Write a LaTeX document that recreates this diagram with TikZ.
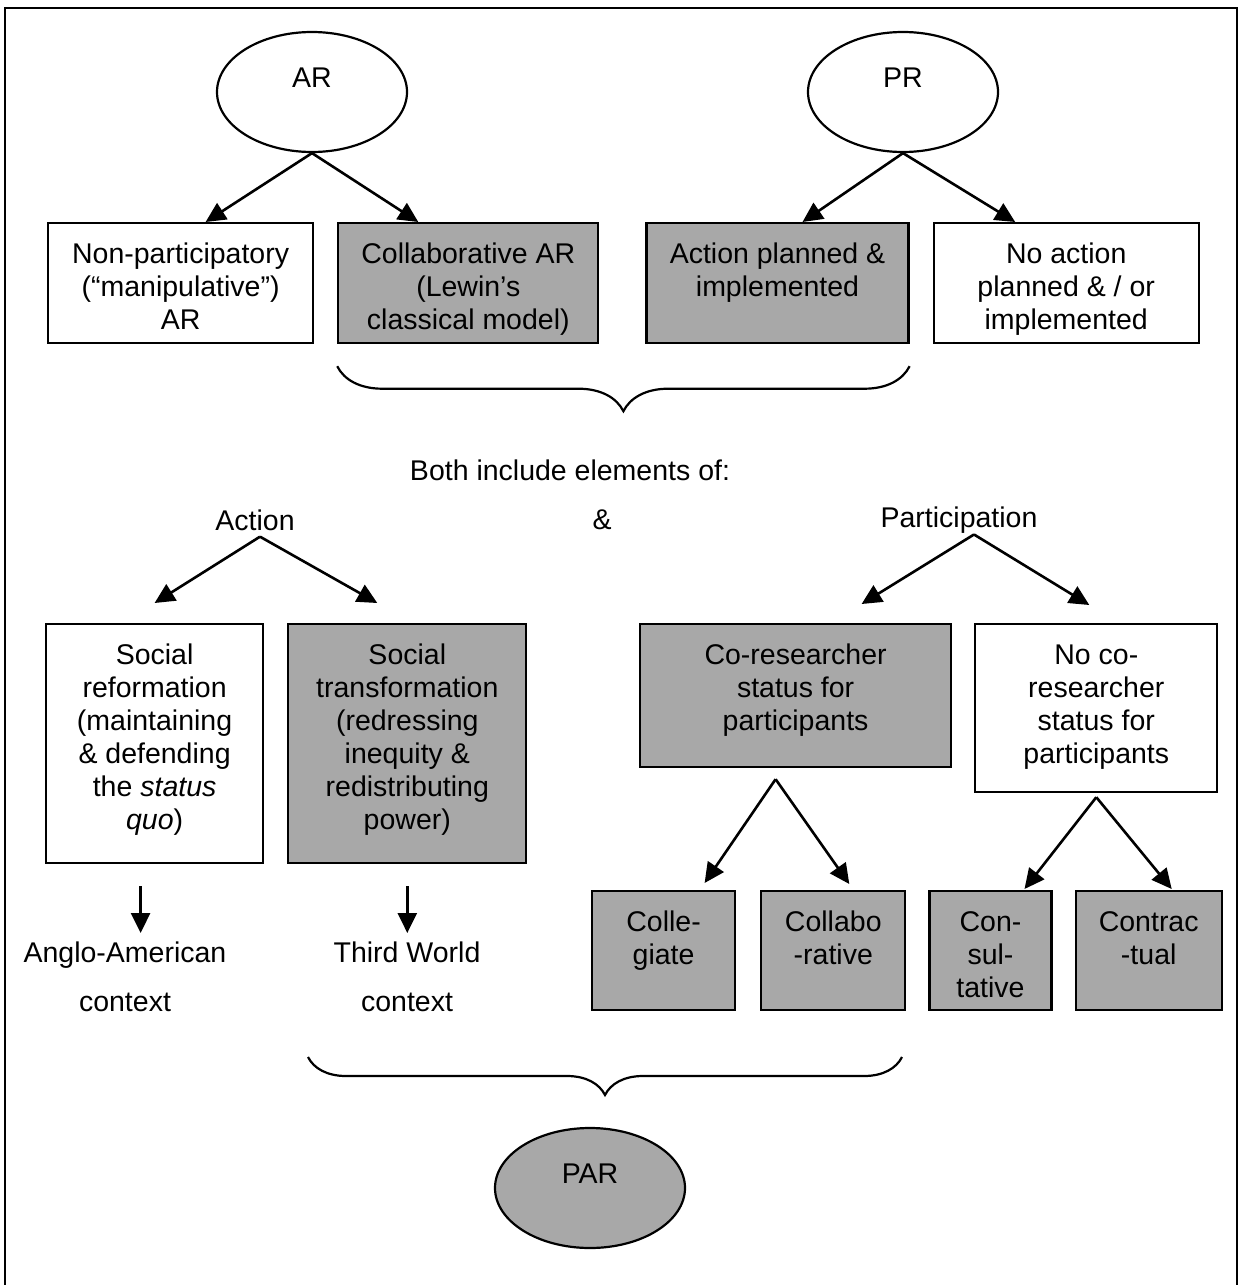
\documentclass[tikz,border=0pt]{standalone}
\usepackage{fontspec}
\setmainfont{Liberation Sans}
\definecolor{ShadeGray}{RGB}{168,168,168}
\usetikzlibrary{shapes.geometric, arrows.meta, positioning, calc, decorations.pathreplacing}
\newcommand{\diagfont}{\fontsize{28.5}{33}\selectfont}
\tikzset{
    base/.style={
        draw,
        line width=2.2pt,
        inner xsep=0pt,
        inner ysep=0pt,
        align=center,
        font=\diagfont
    },
    whitebox/.style={base, fill=white},
    greybox/.style={base, fill=ShadeGray},
    oval/.style={ellipse, draw, line width=2.2pt, minimum width=190pt, minimum height=120pt,
        text height=20pt, text depth=30pt, font=\diagfont},
    words/.style={inner sep=0pt, align=center, font=\diagfont},
    arrow/.style={-{Triangle[length=20pt, width=19pt]}, line width=2.6pt},
    curly/.style={decorate, decoration={brace, mirror, amplitude=#1}, line width=2.2pt}
}
\begin{document}
\begin{tikzpicture}[x=1pt, y=1pt, node distance=23pt]
    \useasboundingbox (0,0) rectangle (1242,-1285);
    % frame
    \draw[line width=2pt] (5,-1285) -- (5,-8) -- (1237,-8) -- (1237,-1285);

    % AR and PR
    \node[oval] (ar) at (312,-92) {AR};
    \node[oval] (pr) at (903,-92) {PR};
    \node[whitebox, anchor=north west, minimum width=265pt, text height=106pt, text depth=14pt] (nonpart) at (47,-222)
        {Non-participatory\\(“manipulative”)\\AR};
    \node[greybox, right=of nonpart, minimum width=260pt, text height=106pt, text depth=14pt] (collab)
        {Collaborative AR\\(Lewin’s\\classical model)};
    \node[greybox, right=46pt of collab, minimum width=262pt, text height=73pt, text depth=47pt] (planned)
        {Action planned \&\\implemented};
    \node[whitebox, right=of planned, minimum width=265pt, text height=106pt, text depth=14pt] (noplan)
        {No action\\planned \& / or\\implemented};

    \draw[arrow] (ar.south) -- ([xshift=25pt]nonpart.north);
    \draw[arrow] (ar.south) -- ([xshift=-50pt]collab.north);
    \draw[arrow] (pr.south) -- ([xshift=25pt]planned.north);
    \draw[arrow] (pr.south) -- ([xshift=-51pt]noplan.north);

    \draw[curly=45pt] ([yshift=-22pt]collab.south west) -- ([yshift=-22pt]planned.south east);

    % Action & Participation
    \node[words] (both) at (570,-470) {Both include elements of:};
    \node[words] (actionlab) at (255,-520) {Action};
    \node[words] (amp) at (602,-520) {\&};
    \node[words] (partlab) at (959,-520) {Participation};

    \node[whitebox, anchor=north west, minimum width=217pt, text height=205pt, text depth=34pt] (socref) at (45,-623)
        {Social\\reformation\\(maintaining\\\& defending\\the \textit{status}\\\textit{quo})};
    \node[greybox, right=of socref, minimum width=238pt, text height=205pt, text depth=34pt] (soctrans)
        {Social\\transformation\\(redressing\\inequity \&\\redistributing\\power)};
    \node[greybox, anchor=north west, minimum width=311pt, text height=106pt, text depth=37pt] (cores) at (639,-623)
        {Co-researcher\\status for\\participants};
    \node[whitebox, right=22pt of cores.north east, anchor=north west, minimum width=242pt, text height=139pt, text depth=29pt] (nocores)
        {No co-\\researcher\\status for\\participants};

    \draw[arrow] ([xshift=5pt, yshift=-6pt]actionlab.south) -- ([yshift=20pt]socref.north);
    \draw[arrow] ([xshift=5pt, yshift=-6pt]actionlab.south) -- ([xshift=-30pt, yshift=20pt]soctrans.north);
    \draw[arrow] ([xshift=15pt, yshift=-1pt]partlab.south) -- ([xshift=66pt, yshift=19pt]cores.north);
    \draw[arrow] ([xshift=15pt, yshift=-1pt]partlab.south) -- ([xshift=-7pt, yshift=18pt]nocores.north);

    % contexts
    \node[words, anchor=north] (anglo) at (125,-942) {Anglo-American\\[16pt]context};
    \node[words, anchor=north] (third) at (407,-942) {Third World\\[16pt]context};
    \coordinate (angloarr) at ([xshift=-14pt, yshift=-22pt]socref.south);
    \coordinate (thirdarr) at ([yshift=-22pt]soctrans.south);
    \draw[arrow] (angloarr) -- ($(angloarr |- anglo.north)+(0,9)$);
    \draw[arrow] (thirdarr) -- ($(thirdarr |- third.north)+(0,9)$);

    % kinds of participation
    \node[greybox, anchor=north west, minimum width=143pt, text height=73pt, text depth=46pt] (collegiate) at (591,-890)
        {Colle-\\giate};
    \node[greybox, right=24pt of collegiate, minimum width=144pt, text height=73pt, text depth=46pt] (collabo)
        {Collabo\\-rative};
    \node[greybox, right=22pt of collabo, minimum width=122pt, text height=106pt, text depth=13pt] (consult)
        {Con-\\sul-\\tative};
    \node[greybox, right=22pt of consult, minimum width=146pt, text height=73pt, text depth=46pt] (contract)
        {Contrac\\-tual};

    \draw[arrow] ([xshift=-20pt, yshift=-11pt]cores.south) -- ([xshift=41pt, yshift=7pt]collegiate.north);
    \draw[arrow] ([xshift=-20pt, yshift=-11pt]cores.south) -- ([xshift=16pt, yshift=6pt]collabo.north);
    \draw[arrow] ([yshift=-4pt]nocores.south) -- ([xshift=34pt, yshift=1pt]consult.north);
    \draw[arrow] ([yshift=-4pt]nocores.south) -- ([xshift=23pt, yshift=1pt]contract.north);

    % PAR
    \draw[curly=38pt] (308,-1057) -- (902,-1057);
    \node[oval, fill=ShadeGray] (par) at (590,-1188) {PAR};
\end{tikzpicture}
\end{document}
